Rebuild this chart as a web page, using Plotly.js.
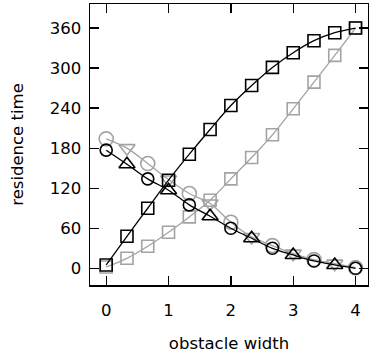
<!DOCTYPE html>
<html>
<head>
<meta charset="utf-8">
<script src="https://cdn.plot.ly/plotly-3.0.1.min.js"></script>
<style>html,body{margin:0;padding:0;background:#fff;}</style>
</head>
<body>
<div id="chart" style="width:369px;height:358px;"></div>
<script>
// Data
const sqX = [0, 1/3, 2/3, 1, 4/3, 5/3, 2, 7/3, 8/3, 3, 10/3, 11/3, 4];
const blackSquares = [5, 48, 90, 132, 171, 208, 244, 274, 301, 323, 341, 353, 360];
const graySquares = [2, 15, 33, 54, 77, 102, 134, 166, 200, 239, 279, 319, 360];

const circX = [0, 2/3, 4/3, 2, 8/3, 10/3, 4];
const blackCircles = [177, 134, 95, 60, 30, 11, 0];
const grayCircles = [194, 157, 112, 69, 34, 13, 1];

const triX = [1/3, 1, 5/3, 7/3, 3, 11/3];
const blackTriangles = [156, 117, 78, 45, 20, 5];
const grayTriangles = [180, 133, 97, 47, 22, 7];

const xTicks = [0, 1, 2, 3, 4];
const yTicks = [0, 60, 120, 180, 240, 300, 360];

function merge(xa, ya, xb, yb) {
  const pts = [];
  xa.forEach((x, i) => pts.push([x, ya[i]]));
  xb.forEach((x, i) => pts.push([x, yb[i]]));
  pts.sort((a, b) => a[0] - b[0]);
  return {x: pts.map(p => p[0]), y: pts.map(p => p[1])};
}

const GRAY = '#a3a3a3';
const BLACK = '#000000';
const LW = 1.3;

const grayLine = merge(circX, grayCircles, triX, grayTriangles);
const blackLine = merge(circX, blackCircles, triX, blackTriangles);

function mk(symbol, color, size) {
  return {symbol: symbol, size: size, color: color, line: {color: color, width: 1.6}};
}

const traces = [
  {x: sqX, y: graySquares, mode: 'lines+markers', line: {color: GRAY, width: LW, shape: 'spline'}, marker: mk('square-open', GRAY, 12)},
  {x: grayLine.x, y: grayLine.y, mode: 'lines', line: {color: GRAY, width: LW, shape: 'spline'}},
  {x: circX, y: grayCircles, mode: 'markers', marker: mk('circle-open', GRAY, 14)},
  {x: triX, y: grayTriangles, mode: 'markers', marker: mk('triangle-down-open', GRAY, 14)},
  {x: sqX, y: blackSquares, mode: 'lines+markers', line: {color: BLACK, width: LW, shape: 'spline'}, marker: mk('square-open', BLACK, 12)},
  {x: blackLine.x, y: blackLine.y, mode: 'lines', line: {color: BLACK, width: LW, shape: 'spline'}},
  {x: circX, y: blackCircles, mode: 'markers', marker: mk('circle-open', BLACK, 12)},
  {x: triX, y: blackTriangles, mode: 'markers', marker: mk('triangle-up-open', BLACK, 14)}
];

const font = {family: 'DejaVu Sans, Verdana, sans-serif', size: 16.5, color: '#000'};

const layout = {
  width: 369, height: 358,
  margin: {l: 90, r: 1, t: 4, b: 73, pad: 0},
  paper_bgcolor: '#fff', plot_bgcolor: '#fff',
  showlegend: false,
  font: font,
  xaxis: {
    range: [-0.26, 4.2],
    tickvals: xTicks, ticktext: xTicks.map(String),
    ticks: 'inside', ticklen: 9, tickwidth: 1.3, tickcolor: '#000',
    showline: true, linecolor: '#000', linewidth: 1.5, mirror: 'allticks',
    showgrid: false, zeroline: false,
    ticklabelstandoff: 10,
    tickfont: font,
    title: {text: 'obstacle width', font: font, standoff: 18}
  },
  yaxis: {
    range: [-25, 396],
    tickvals: yTicks, ticktext: yTicks.map(String),
    ticks: 'inside', ticklen: 9, tickwidth: 1.3, tickcolor: '#000',
    showline: true, linecolor: '#000', linewidth: 1.5, mirror: 'allticks',
    showgrid: false, zeroline: false,
    ticklabelstandoff: 4,
    tickfont: font,
    title: {text: 'residence time', font: font, standoff: 22}
  }
};

Plotly.newPlot('chart', traces, layout, {staticPlot: true, displayModeBar: false});
</script>
</body>
</html>
